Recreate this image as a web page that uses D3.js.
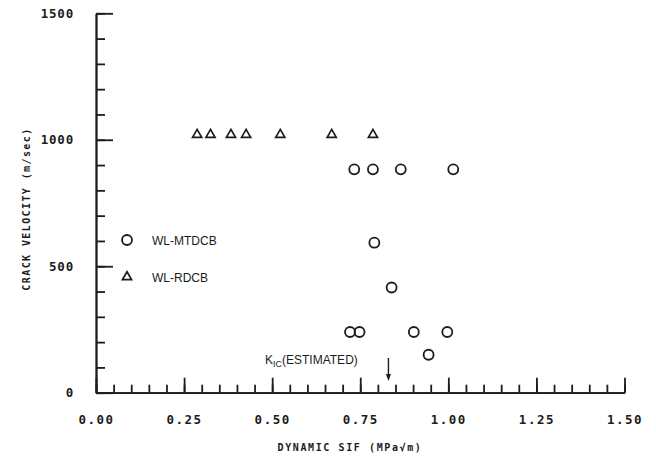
<!DOCTYPE html>
<html>
<head>
<meta charset="utf-8">
<script src="https://cdn.jsdelivr.net/npm/d3@7"></script>
<style>
  body { margin: 0; background: #fff; }
  .plot { font-family: "DejaVu Sans Mono", monospace; font-weight: bold; fill: #1c1c1c; }
  .note { font-family: "Liberation Sans", "DejaVu Sans", sans-serif; fill: #1c1c1c; }
</style>
</head>
<body>
<svg id="chart" width="656" height="456"></svg>
<script>
"use strict";
// WL-MTDCB specimens (circles)
const mtdcbSif = [0.733, 0.786, 0.865, 1.014, 0.790, 0.839, 0.721, 0.748, 0.902, 0.997, 0.944];
const mtdcbVel = [883, 883, 883, 883, 593, 416, 240, 240, 240, 240, 150];
// WL-RDCB specimens (triangles)
const rdcbSif = [0.287, 0.325, 0.383, 0.426, 0.523, 0.669, 0.786];
const rdcbVel = [1020, 1020, 1020, 1020, 1020, 1020, 1020];
const xTicks = [0, 0.25, 0.5, 0.75, 1.0, 1.25, 1.5];
const yTicks = [0, 500, 1000, 1500];
const kicEstimate = 0.83;

function drawChart() {
    const svg = d3.select('#chart');
    svg.selectAll('*').remove();
    const ink = '#1c1c1c';

    const x = d3.scaleLinear().domain([0, 1.5]).range([96, 624.5]);
    const y = d3.scaleLinear().domain([0, 1500]).range([392.7, 13.3]);

    // minor ticks
    svg.append('g')
        .attr('transform', 'translate(0,392.7)')
        .call(d3.axisBottom(x).tickValues(d3.range(0, 1.501, 0.05)).tickSize(-8).tickSizeOuter(0).tickFormat(''))
        .call(g => g.selectAll('line, path').attr('stroke', ink).attr('stroke-width', 1.8));
    svg.append('g')
        .attr('transform', 'translate(96,0)')
        .call(d3.axisLeft(y).tickValues(d3.range(0, 1501, 100)).tickSize(-9).tickSizeOuter(0).tickFormat(''))
        .call(g => g.selectAll('line, path').attr('stroke', ink).attr('stroke-width', 1.8));

    // major ticks + labels
    const xAxis = svg.append('g')
        .attr('class', 'plot')
        .attr('transform', 'translate(0,392.7)')
        .call(d3.axisBottom(x).tickValues(xTicks).tickSize(-15).tickSizeOuter(0).tickPadding(22)
            .tickFormat(d3.format('.2f')));
    xAxis.selectAll('line, path').attr('stroke', ink).attr('stroke-width', 1.8);
    xAxis.selectAll('text')
        .attr('fill', ink).attr('font-size', 12.5).attr('letter-spacing', 1.5)
        .attr('font-family', '"DejaVu Sans Mono", monospace').attr('font-weight', 'bold');

    const yAxis = svg.append('g')
        .attr('class', 'plot')
        .attr('transform', 'translate(96,0)')
        .call(d3.axisLeft(y).tickValues(yTicks).tickSize(-17).tickSizeOuter(0).tickPadding(22)
            .tickFormat(d3.format('d')));
    yAxis.selectAll('line, path').attr('stroke', ink).attr('stroke-width', 1.8);
    yAxis.selectAll('text')
        .attr('fill', ink).attr('font-size', 12.5).attr('letter-spacing', 0.8)
        .attr('font-family', '"DejaVu Sans Mono", monospace').attr('font-weight', 'bold');

    // axis titles
    svg.append('text')
        .attr('class', 'plot')
        .attr('x', 350).attr('y', 451)
        .attr('text-anchor', 'middle')
        .attr('font-size', 10).attr('letter-spacing', 1.6)
        .text('DYNAMIC SIF (MPa\u221Am)');
    svg.append('text')
        .attr('class', 'plot')
        .attr('transform', 'translate(30,209) rotate(-90)')
        .attr('text-anchor', 'middle')
        .attr('font-size', 10).attr('letter-spacing', 1.4)
        .text('CRACK VELOCITY (m/sec)');

    // data marks
    svg.selectAll('circle.mtdcb')
        .data(mtdcbSif)
        .enter()
        .append('circle')
        .attr('class', 'mtdcb')
        .attr('cx', d => x(d))
        .attr('cy', (d, i) => y(mtdcbVel[i]))
        .attr('r', 5)
        .attr('fill', 'none')
        .attr('stroke', ink)
        .attr('stroke-width', 1.8);

    const tri = d3.symbol().type(d3.symbolTriangle).size(36);
    svg.selectAll('path.rdcb')
        .data(rdcbSif)
        .enter()
        .append('path')
        .attr('class', 'rdcb')
        .attr('d', tri)
        .attr('transform', (d, i) => `translate(${x(d)},${y(rdcbVel[i])})`)
        .attr('fill', 'none')
        .attr('stroke', ink)
        .attr('stroke-width', 1.7);

    // legend
    const legend = svg.append('g').attr('transform', 'translate(127,240)');
    legend.append('circle').attr('r', 5).attr('fill', 'none').attr('stroke', ink).attr('stroke-width', 1.8);
    legend.append('text').attr('class', 'note').attr('x', 25).attr('y', 4.5)
        .attr('font-size', 12).text('WL-MTDCB');
    legend.append('path').attr('d', tri).attr('transform', 'translate(0,37)')
        .attr('fill', 'none').attr('stroke', ink).attr('stroke-width', 1.7);
    legend.append('text').attr('class', 'note').attr('x', 25).attr('y', 41.5)
        .attr('font-size', 12).text('WL-RDCB');

    // K_IC estimate annotation
    const note = svg.append('text').attr('class', 'note')
        .attr('x', 265).attr('y', 364).attr('font-size', 12);
    note.append('tspan').text('K');
    note.append('tspan').attr('font-size', 9).attr('dy', 3).text('IC');
    note.append('tspan').attr('dy', -3).text('(ESTIMATED)');

    const ax = x(kicEstimate);
    svg.append('line')
        .attr('x1', ax).attr('x2', ax).attr('y1', 358).attr('y2', 378)
        .attr('stroke', ink).attr('stroke-width', 1.4);
    svg.append('path')
        .attr('d', `M${ax - 2.5},374 L${ax + 2.5},374 L${ax},381 Z`)
        .attr('fill', ink);
}
drawChart();
</script>
</body>
</html>
